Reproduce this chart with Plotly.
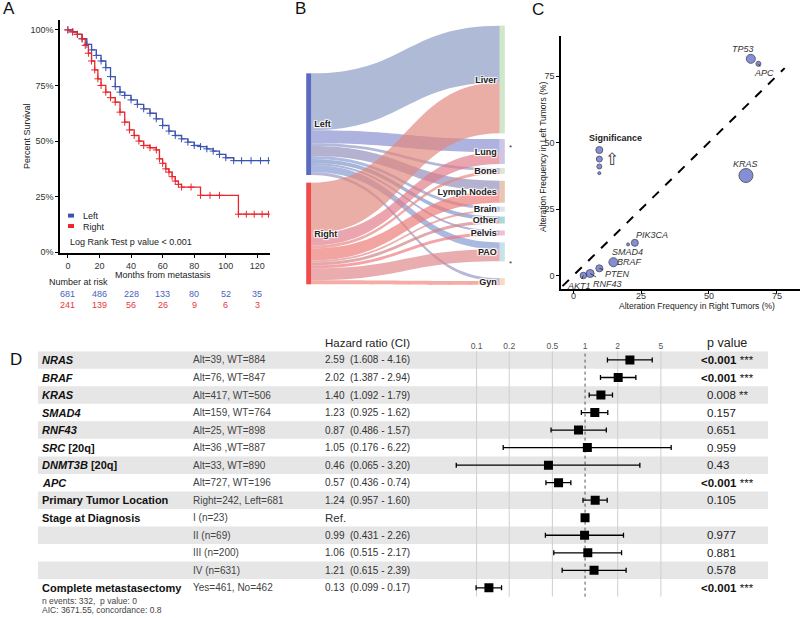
import plotly.graph_objects as go

FONT = "Liberation Sans, Arial, sans-serif"
W, H = 800, 618


def px(x):
    return x / W


def py(y):
    return 1 - y / H


# ---------------- Panel A: Kaplan-Meier data ----------------
left_months = [0, 3, 6, 9, 12, 15, 18, 21, 24, 27, 30, 33, 36, 40, 44, 48, 52, 56, 60, 64,
               68, 72, 76, 80, 84, 88, 92, 96, 100, 105, 110, 116, 122, 127]
left_surv = [100, 99.2, 98, 96, 93.5, 91, 88.5, 86, 83, 79, 74.5, 72, 70.5, 68.5, 66.5, 64.5,
             62.5, 60, 57, 54.5, 52.5, 51, 49.5, 48, 47.5, 46.5, 45.5, 44, 42.5, 41.2, 41.2,
             41.2, 41.2, 41.2]
right_months = [0, 3, 6, 9, 11, 13, 15, 17, 19, 21, 24, 27, 30, 33, 36, 39, 42, 45, 48, 52,
                56, 58, 60, 62, 64, 66, 68, 70, 72, 78, 84, 90, 96, 108, 113, 118, 123, 127]
right_surv = [100, 99, 98, 96, 93, 89.5, 86, 82, 78, 75, 72, 69.5, 67.5, 63, 58.5, 55, 52.5,
              50, 48, 47, 46, 42, 40, 37.5, 36, 34, 32, 30.5, 29.3, 29.3, 25.6, 25.6, 25.6,
              17.1, 17.1, 17.1, 17.1, 17.1]
risk_times = [0, 20, 40, 60, 80, 100, 120]
risk_left = [681, 486, 228, 133, 80, 52, 35]
risk_right = [241, 139, 56, 26, 9, 6, 3]
surv_ticks = [0, 25, 50, 75, 100]

# ---------------- Panel B: Sankey data ----------------
origins = ["Left", "Right"]
sites = ["Liver", "Lung", "Bone", "Lymph Nodes", "Brain", "Other", "Pelvis", "PAO", "Gyn"]
left_site_counts = [57, 13, 3, 10, 3, 4, 2, 7, 3]
right_site_counts = [51, 12, 3, 12, 2, 3, 3, 12, 4]
significant_sites = ["Lung", "PAO"]

# ---------------- Panel C: alteration frequency ----------------
genes = ["TP53", "APC", "KRAS", "PIK3CA", "SMAD4", "BRAF", "PTEN", "RNF43", "AKT1"]
right_freq = [65.5, 68.3, 63.7, 22.7, 20.2, 14.8, 9.6, 6.2, 3.7]
left_freq = [81.5, 79.6, 37.6, 12.3, 11.7, 5.0, 2.7, 0.75, 0.0]
significance = [9, 5, 14, 7, 3, 9, 7, 8, 6.5]
sig_legend = [7, 6, 5, 3]
freq_ticks = [0, 25, 50, 75]

# ---------------- Panel D: Cox model forest ----------------
variables = ["NRAS", "BRAF", "KRAS", "SMAD4", "RNF43", "SRC [20q]", "DNMT3B [20q]", "APC",
             "Primary Tumor Location", "Stage at Diagnosis", "", "", "", "Complete metastasectomy"]
italic_genes = ["NRAS", "BRAF", "KRAS", "SMAD4", "RNF43", "SRC", "DNMT3B", "APC"]
groups = ["Alt=39, WT=884", "Alt=76, WT=847", "Alt=417, WT=506", "Alt=159, WT=764",
          "Alt=25, WT=898", "Alt=36 ,WT=887", "Alt=33, WT=890", "Alt=727, WT=196",
          "Right=242, Left=681", "I (n=23)", "II (n=69)", "III (n=200)", "IV (n=631)",
          "Yes=461, No=462"]
hr = [2.59, 2.02, 1.40, 1.23, 0.87, 1.05, 0.46, 0.57, 1.24, 1.0, 0.99, 1.06, 1.21, 0.13]
hr_lo = [1.608, 1.387, 1.092, 0.925, 0.486, 0.176, 0.065, 0.436, 0.957, None, 0.431, 0.515, 0.615, 0.099]
hr_hi = [4.16, 2.94, 1.79, 1.62, 1.57, 6.22, 3.20, 0.74, 1.60, None, 2.26, 2.17, 2.39, 0.17]
pvals = ["<0.001", "<0.001", "0.008", "0.157", "0.651", "0.959", "0.43", "<0.001", "0.105",
         "", "0.977", "0.881", "0.578", "<0.001"]
stars = ["***", "***", "**", "", "", "", "", "***", "", "", "", "", "", "***"]
forest_ticks = [0.1, 0.2, 0.5, 1, 2, 5]
footer = ["n events: 332,  p value: 0", "AIC: 3671.55, concordance: 0.8"]

BLUE = "#3b53b2"
RED = "#e8262c"
DOT = "#5260c2"
DOT_EDGE = "#1a1a3a"

fig = go.Figure()
ann = []
shapes = []


def A(text, x, y, size=9, color="#222", xanchor="left", yanchor="middle",
      xref="paper", yref="paper", **kw):
    ann.append(dict(text=text, x=x, y=y, xref=xref, yref=yref, showarrow=False,
                    font=dict(family=FONT, size=size, color=color),
                    xanchor=xanchor, yanchor=yanchor, **kw))


# ---------- Panel A ----------
for m, s, c in [(left_months, left_surv, BLUE), (right_months, right_surv, RED)]:
    fig.add_trace(go.Scatter(x=m, y=s, mode="lines+markers", line=dict(color=c, width=1.3, shape="hv"),
                             marker=dict(symbol="cross-thin-open", size=5, line=dict(color=c, width=1)),
                             xaxis="x", yaxis="y", hoverinfo="skip"))

A("A", px(1), py(9), size=17, color="#111")
A("Percent Survival", px(27), py(137), size=9, xanchor="center", textangle=-90)
A("Months from metastasis", px(163), py(277), size=9, xanchor="center")
A("Number at risk", px(47), py(284), size=9)
for t, l, r in zip(risk_times, risk_left, risk_right):
    A(str(l), t, py(296), size=9, color="#4a62bb", xanchor="center", xref="x")
    A(str(r), t, py(307), size=9, color="#e8383d", xanchor="center", xref="x")
shapes.append(dict(type="rect", xref="paper", yref="paper", x0=px(68), x1=px(74), y0=py(219), y1=py(215),
                   fillcolor=BLUE, line=dict(width=0)))
shapes.append(dict(type="rect", xref="paper", yref="paper", x0=px(68), x1=px(74), y0=py(229.5), y1=py(225.5),
                   fillcolor=RED, line=dict(width=0)))
A("Left", px(81), py(217.5), size=9)
A("Right", px(81), py(228), size=9)
A("Log Rank Test p value &lt; 0.001", px(68), py(244), size=9)

# ---------- Panel B ----------
node_labels = origins + sites
node_colors = ["#5b6bc0", "#ef4d4d", "#cfe8ca", "#cfc6e6", "#dde5d6", "#e9c6b2", "#d6e6ef",
               "#a6dbd7", "#f2bfd0", "#c4e3ec", "#f7dcc4"]


def hex2rgb(h):
    h = h.lstrip("#")
    return [int(h[i:i + 2], 16) for i in (0, 2, 4)]


def blend(c1, c2, a):
    r1, r2 = hex2rgb(c1), hex2rgb(c2)
    m = [int(0.62 * u + 0.38 * v) for u, v in zip(r1, r2)]
    return f"rgba({m[0]},{m[1]},{m[2]},{a})"


src, tgt, vals, lcol = [], [], [], []
for oi, counts in enumerate([left_site_counts, right_site_counts]):
    for si, v in enumerate(counts):
        src.append(oi)
        tgt.append(2 + si)
        vals.append(v)
        lcol.append(blend(node_colors[oi], node_colors[2 + si], 0.68))

node_center_px = [125, 235, 80, 152.5, 172, 193, 210.5, 221.5, 234.5, 253.5, 283.5]
top, bot = 26, 287
node_y = [(c - top) / (bot - top) for c in node_center_px]
node_x = [0.001, 0.001] + [0.999] * len(sites)
fig.add_trace(go.Sankey(
    domain=dict(x=[px(308.5), px(502.5)], y=[py(bot), py(top)]),
    arrangement="fixed",
    node=dict(label=node_labels, color=node_colors, pad=7, thickness=5,
              line=dict(width=0), x=node_x, y=node_y),
    link=dict(source=src, target=tgt, value=vals, color=lcol),
    textfont=dict(family=FONT, size=9, color="#222", weight="bold"),
    hoverinfo="none",
))
A("B", px(293), py(9), size=17, color="#111")
for s, yy in zip(significant_sites, [148, 265]):
    A("*", px(507), py(yy), size=8, color="#333")

# ---------- Panel C ----------
diag = [-4, 78]
fig.add_trace(go.Scatter(x=diag, y=diag, mode="lines", line=dict(color="black", width=2, dash="dash"),
                         xaxis="x2", yaxis="y2", hoverinfo="skip"))
fig.add_trace(go.Scatter(x=right_freq, y=left_freq, mode="markers",
                         marker=dict(size=significance, color=DOT, line=dict(color=DOT_EDGE, width=1)),
                         xaxis="x2", yaxis="y2", hoverinfo="skip"))
fig.add_trace(go.Scatter(x=[9.6] * 4, y=[47.2, 43.8, 41.0, 38.5], mode="markers",
                         marker=dict(size=sig_legend, color=DOT, line=dict(color=DOT_EDGE, width=1)),
                         xaxis="x2", yaxis="y2", hoverinfo="skip"))
A("C", px(530), py(10), size=17, color="#111")
A("<b>Significance</b>", px(615), py(139), size=9, xanchor="center")
A("⇧", px(612), py(161), size=17, color="#333", xanchor="center")
A("Alteration Frequency in Left Tumors (%)", px(543), py(158), size=8.5, xanchor="center", textangle=-90)
A("Alteration Frequency in Right Tumors (%)", px(697), py(307.5), size=8.5, xanchor="center")
for t in freq_ticks:
    A(str(t), t, py(297.5), size=9, color="#333", xanchor="center", xref="x2")

label_style = {
    "TP53": dict(xshift=-8, yshift=10),
    "APC": dict(ax=6, ay=9),
    "KRAS": dict(xshift=0, yshift=12),
    "PIK3CA": dict(xshift=17, yshift=8),
    "SMAD4": dict(xshift=-1, yshift=-8),
    "BRAF": dict(xshift=16, yshift=0),
    "PTEN": dict(ax=18, ay=6),
    "RNF43": dict(ax=17, ay=10),
    "AKT1": dict(ax=-4, ay=10),
}
for g, xv, yv in zip(genes, right_freq, left_freq):
    st = label_style[g]
    if "ax" in st:
        ann.append(dict(text=f"<i>{g}</i>", x=xv, y=yv, xref="x2", yref="y2", showarrow=True,
                        arrowhead=0, arrowwidth=0.8, arrowcolor="#222", ax=st["ax"], ay=st["ay"],
                        font=dict(family=FONT, size=9, color="#333")))
    else:
        ann.append(dict(text=f"<i>{g}</i>", x=xv, y=yv, xref="x2", yref="y2", showarrow=False,
                        xshift=st["xshift"], yshift=st["yshift"],
                        font=dict(family=FONT, size=9, color="#333")))

# ---------- Panel D ----------
nrows = len(variables)
for i in range(nrows):
    if i % 2 == 0:
        shapes.append(dict(type="rect", xref="paper", yref="y3", x0=px(38), x1=px(768),
                           y0=i - 0.5, y1=i + 0.5, fillcolor="#e6e6e6", line=dict(width=0), layer="below"))
for v in forest_ticks:
    if v == 1:
        shapes.append(dict(type="line", xref="x3", yref="y3 domain", x0=v, x1=v,
                           y0=0, y1=1, line=dict(color="#555", width=1, dash="dot"), layer="below"))
    else:
        shapes.append(dict(type="line", xref="x3", yref="y3 domain", x0=v, x1=v,
                           y0=0, y1=1, line=dict(color="#cfcfcf", width=1), layer="below"))

rows = list(range(nrows))
err_plus = [None if h is None else h - r for r, h in zip(hr, hr_hi)]
err_minus = [None if l is None else r - l for r, l in zip(hr, hr_lo)]
fig.add_trace(go.Scatter(x=hr, y=rows, mode="markers", xaxis="x3", yaxis="y3",
                         marker=dict(symbol="square", size=9, color="black"),
                         error_x=dict(type="data", array=err_plus, arrayminus=err_minus,
                                      color="black", thickness=1.3, width=2.5),
                         hoverinfo="skip"))

A("D", px(8), 0, size=17, color="#111", yref="y3")


def fmt_var(v):
    if not v:
        return ""
    base = v.split(" [")[0]
    rest = v[len(base):]
    if base in italic_genes:
        return f"<b><i>{base}</i>{rest}</b>"
    return f"<b>{v}</b>"


for i in range(nrows):
    A(fmt_var(variables[i]), px(40), i, size=11, color="#111", yref="y3")
    A(groups[i], px(191), i, size=10, color="#444", yref="y3")
    if hr_lo[i] is None:
        A("Ref.", px(323), i, size=11.5, color="#333", yref="y3")
    else:
        A(f"{hr[i]:.2f}\u00a0\u00a0({hr_lo[i]:.3f} - {hr_hi[i]:.2f})",
          px(323), i, size=10, color="#333", yref="y3")
    if pvals[i]:
        if pvals[i].startswith("<"):
            A(f"<b>&lt;0.001</b> {stars[i]}", px(699), i, size=11.5, color="#111", yref="y3")
        else:
            A(f"{pvals[i]} {stars[i]}".strip(), px(705), i, size=11.5, color="#222", yref="y3")

A("Hazard ratio (CI)", px(323), py(345), size=11.5, color="#222")
A("p value", px(705), py(345), size=12.5, color="#222")
A(footer[0], px(40), py(604.5), size=8.5, color="#444")
A(footer[1], px(40), py(613.5), size=8.5, color="#444")

axis_common = dict(showgrid=False, zeroline=False, showline=True, linecolor="black", linewidth=1.5,
                   ticks="outside", ticklen=3, tickcolor="black", tickwidth=1,
                   tickfont=dict(family=FONT, size=9, color="#333"))

fig.update_layout(
    width=W, height=H, margin=dict(l=0, r=0, t=0, b=0),
    paper_bgcolor="white", plot_bgcolor="rgba(0,0,0,0)", showlegend=False,
    font=dict(family=FONT),
    xaxis=dict(domain=[px(60), px(270)], range=[-5, 128], anchor="y", tickvals=risk_times, **axis_common),
    yaxis=dict(domain=[py(255), py(20)], range=[-0.5, 104.5], anchor="x", tickvals=surv_ticks,
               ticktext=[f"{v}%" for v in surv_ticks], **axis_common),
    xaxis2=dict(domain=[px(561), 1.0], range=[-4.55, 83.65], anchor="y2", tickvals=freq_ticks,
                showticklabels=False, **axis_common),
    yaxis2=dict(domain=[py(291), py(36.7)], range=[-5.12, 89.9], anchor="x2", tickvals=freq_ticks, **axis_common),
    xaxis3=dict(type="log", domain=[0, 1], range=[-5.392, 1.981], anchor="y3", side="top",
                tickvals=forest_ticks, ticktext=[str(v) for v in forest_ticks],
                showgrid=False, zeroline=False, showline=False, ticks="",
                tickfont=dict(family=FONT, size=8.5, color="#555")),
    yaxis3=dict(domain=[py(600.5), py(353.5)], range=[nrows - 0.5, -0.5], anchor="x3", visible=False),
    annotations=ann, shapes=shapes,
)

fig.write_html("out.html", config={"displayModeBar": False},
               post_script="document.body.style.margin='0';document.body.style.overflow='hidden';")
